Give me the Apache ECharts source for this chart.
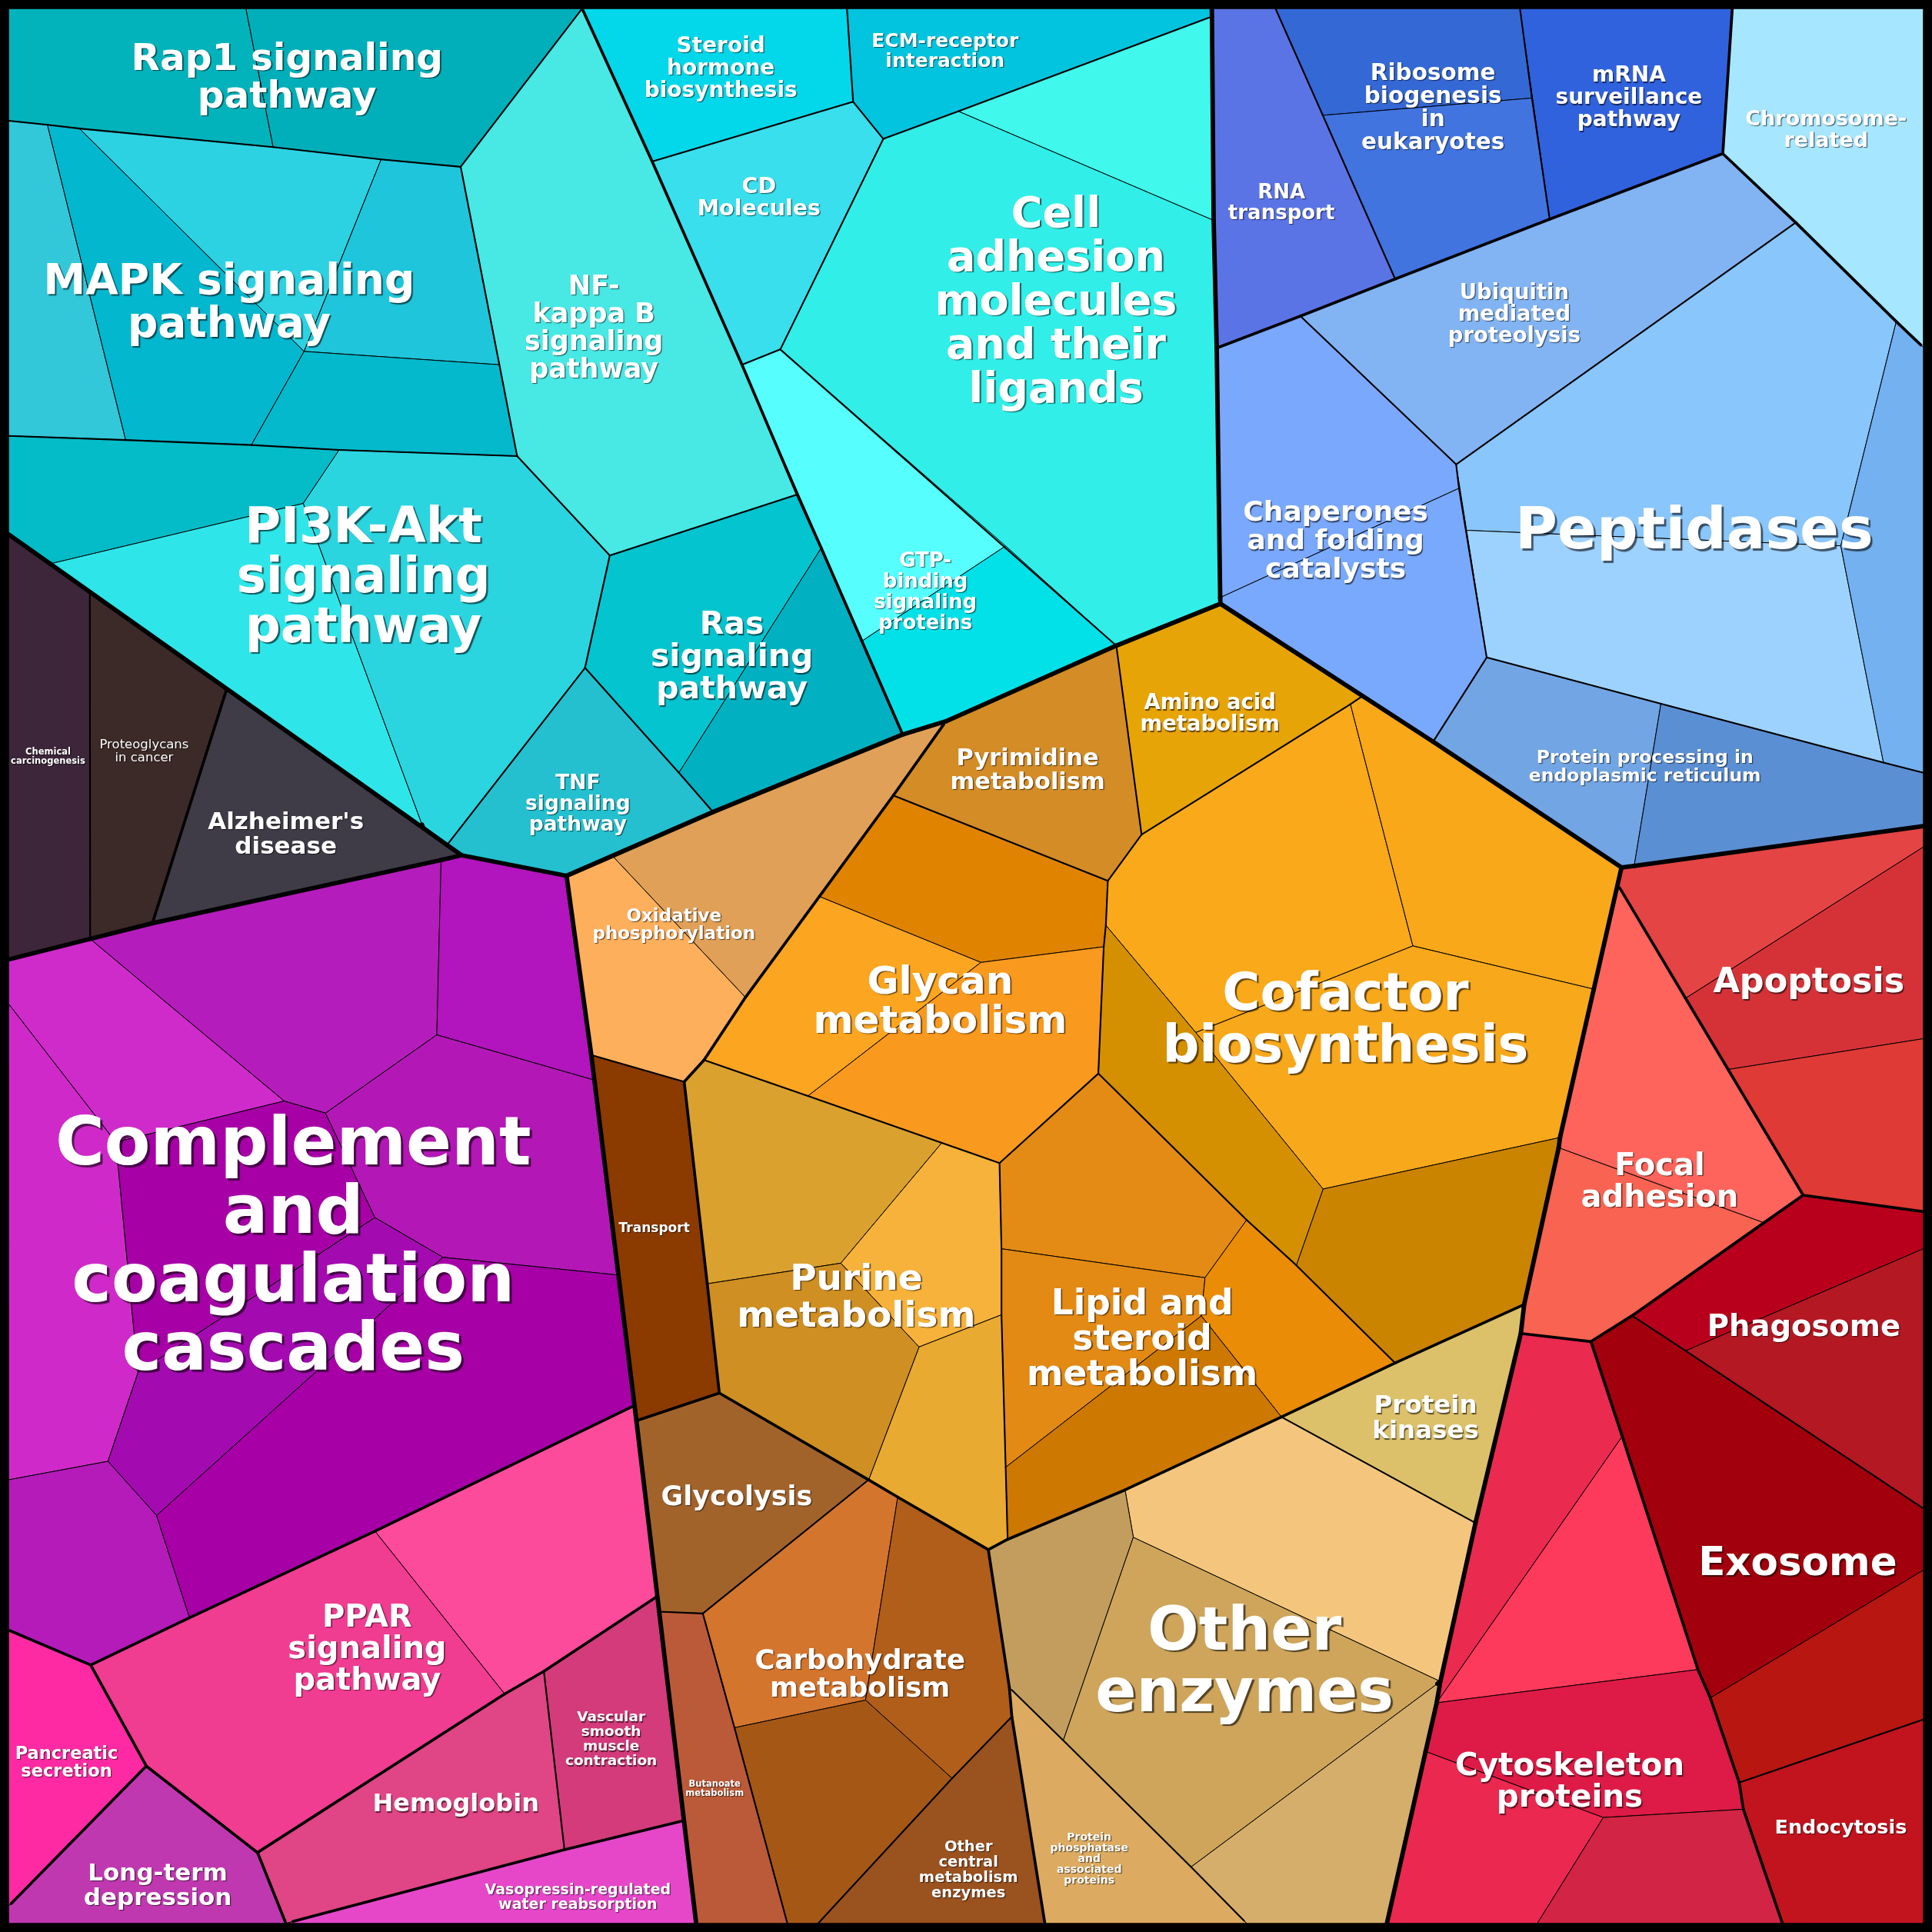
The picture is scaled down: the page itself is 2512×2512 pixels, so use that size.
<!DOCTYPE html>
<html>
<head>
<meta charset="utf-8">
<title>Proteomap</title>
<script src="https://cdn.jsdelivr.net/npm/echarts/dist/echarts.min.js"></script>
<style>
  html, body { margin: 0; padding: 0; background: #000; }
  #chart { width: 2512px; height: 2512px; }
</style>
</head>
<body>
<div id="chart"></div>
<script>
// layout space is 0..1568 on both axes (y grows downwards)
const SPACE = 1568;

// cell corner points
const pts = {
  tl: [7, 7], tr: [1561, 7], bl: [7, 1561], br: [1561, 1561],
  a1: [7, 98], a2: [38.5, 101.3], a3: [64.5, 104.3], a4: [221.7, 119.4], a5: [309.3, 129.4], a6: [373.9, 135.4], a7: [472.5, 7], a8: [199.6, 7],
  b1: [246.8, 285.2], b2: [405.3, 296], b3: [419.7, 370.2], b4: [275.2, 365.2], b5: [204, 361.2], b6: [102, 357.1], b7: [7, 353.8],
  c1: [647, 401.3], c2: [529.3, 131.1], c3: [602.2, 296], c4: [494.9, 450.8],
  d1: [732.6, 596.1], d2: [666.5, 444.8], d3: [551, 627.2], d4: [474.8, 542], d5: [578.7, 659], d6: [459.8, 710.8], d7: [374.5, 694.1], d8: [362.8, 685.8], d9: [767.7, 585.4],
  e1: [7, 433.7], e2: [246.1, 408.6], e3: [40.8, 457.6], e4: [343.5, 672.1],
  f1: [687.4, 7], f2: [692.4, 82.6], f3: [716.9, 112.7], f4: [777.7, 90.3], f5: [983.6, 13.4], f6: [985, 178.9], f7: [633.3, 283.6], f8: [906, 524], f9: [816.2, 443.1], f10: [700, 520],
  g1: [983.5, 7], g2: [990.5, 490],
  h1: [1035.2, 7], h2: [1073.6, 93.6], h3: [1132.3, 226.4], h4: [1243.3, 79.6], h5: [1233.6, 7], h6: [1257.7, 177.9], h7: [1405.9, 7], h8: [1398.2, 124.7], h9: [987.5, 282.5], h10: [1055.4, 256.5], h11: [1457.4, 180.6], h12: [1561, 281.9], h13: [1181.8, 376.9],
  i1: [1206.6, 533.6], i2: [1163.1, 602], i3: [1528.6, 618.9], i4: [1561, 627.2], i5: [1348, 571.1], i6: [1326.3, 702.8], i7: [1316, 704], i8: [1561, 670.5],
  j1: [1184.1, 396.3], j2: [990.3, 485],
  k1: [1539, 261], k2: [1494, 443], k3: [1190.3, 430.4],
  q2: [926.5, 677.4], q3: [1105, 565.5], q4: [899.1, 714.9], q5: [725, 645.6],
  t1: [1096, 571.5], t2: [1146.7, 767.7], t3: [1073.8, 965], t4: [970.5, 838], t5: [897.5, 751], t6: [1132.3, 1106.2], t7: [1052.1, 1026.9],
  r1: [1237, 1058.7], r2: [1234.3, 1082.2], r3: [1293.5, 802.8], r4: [1266.1, 923.2],
  u1: [891.4, 871.3], u2: [1011.8, 990.1], u3: [895.8, 768.4], u4: [811.2, 943.9], u5: [571.4, 860.3],
  v1: [796.1, 781.1], v2: [665, 727.6], v3: [655.7, 889.5],
  w1: [555.3, 878], w2: [479.9, 856.3], w3: [497, 694.6], w4: [605, 809.5], w5: [516.5, 1153], w6: [583.8, 1130.6],
  x1: [802.1, 1257.7], x2: [817.8, 1249.3],
  y1: [764.4, 927.5], y2: [682.4, 1025.2], y3: [574, 1041.9], y4: [745.9, 1093.2], y5: [812.8, 1067.1],
  z1: [913.1, 1209.2], z2: [1040, 1150], z3: [978, 1037], z4: [812.8, 1013.5], z5: [975, 1068], z6: [816.2, 1190.8],
  aa1: [535, 1308], aa2: [565, 1561],
  ab1: [705, 1201], ab2: [570.4, 1309.5], ab3: [821.2, 1393.2], ab4: [848, 1561],
  ac1: [728.6, 1215], ac2: [702.5, 1379.8], ac3: [596.1, 1402.2], ac4: [772.7, 1443.3], ac5: [664, 1561], ac6: [639, 1561],
  ad1: [1197.5, 1236], ad2: [1125.6, 1561],
  ae1: [819.2, 1369.7], ae2: [966.7, 1515.2], ae3: [1011.8, 1561],
  af1: [863, 1412.5], af2: [919.8, 1247.7], af3: [1169, 1364.7],
  ag1: [1313, 718], ag2: [1463.4, 970],
  ah1: [1368, 810.2], ah2: [1561, 687.4], ah3: [1402.5, 868], ah4: [1561, 843], ah5: [1561, 983.4],
  ai1: [1324.6, 1067.8], ai2: [1291.2, 1088.8],
  aj1: [1265, 931.5], aj2: [1431.6, 992.4],
  ak1: [1561, 1013.5], ak2: [1368.1, 1096.3], ak3: [1561, 1224.3],
  al1: [1561, 1274.4], al2: [1388.1, 1378.1], al3: [1561, 1395.5], al4: [1411.5, 1446.7], al5: [1446.6, 1561],
  am1: [1166, 1382], am2: [1378, 1355], am3: [1157, 1421.5], am4: [1301.2, 1475.1], am5: [1414.9, 1468.4], am6: [1247.7, 1561], am7: [1316.6, 1165.8],
  an1: [533.5, 1295.5], an2: [555.5, 1477.5], an3: [458.1, 1501.2], an4: [232, 1561],
  ao1: [515, 1140.7],
  ap1: [409.6, 1374.8], ap2: [209, 1503.5], ap3: [118.7, 1433.3], ap4: [73.6, 1351.3], ap5: [153.8, 1312.9], ap6: [304.3, 1242.7], ap7: [7, 1323], ap8: [7, 1547],
  aq1: [441.4, 1356.4],
  ar1: [7, 778.7],
  as1: [73.2, 762], as2: [123.7, 749.3], as3: [72.9, 480.4], as4: [184, 559.1],
  ba1: [358, 698], ba2: [354.5, 839.9], ba3: [264.2, 903.4], ba4: [482.3, 876.6], ba5: [230.7, 893.6], ba6: [94, 927], ba7: [112, 1114],
  ba8: [87.6, 1186], ba9: [7, 1201], ba10: [127.1, 1230], ba11: [359.5, 1020.4], ba12: [304.3, 988.2], ba13: [501.5, 1034.8], ba14: [7, 814.8]
};

// pathways: id, name, group
const pathways = [
  ['rap1', 'Rap1 signaling pathway', 'sig'],
  ['mapk', 'MAPK signaling pathway', 'sig'],
  ['nfkb', 'NF-kappa B signaling pathway', 'sig'],
  ['pi3k', 'PI3K-Akt signaling pathway', 'sig'],
  ['ras', 'Ras signaling pathway', 'sig'],
  ['tnf', 'TNF signaling pathway', 'sig'],
  ['ster', 'Steroid hormone biosynthesis', 'cam'],
  ['ecm', 'ECM-receptor interaction', 'cam'],
  ['cd', 'CD Molecules', 'cam'],
  ['cam', 'Cell adhesion molecules and their ligands', 'cam'],
  ['gtp', 'GTP-binding signaling proteins', 'cam'],
  ['rna', 'RNA transport', 'gen'],
  ['ribo', 'Ribosome biogenesis in eukaryotes', 'gen'],
  ['mrna', 'mRNA surveillance pathway', 'gen'],
  ['chrom', 'Chromosome-related', 'chr'],
  ['ubiq', 'Ubiquitin mediated proteolysis', 'fold'],
  ['chap', 'Chaperones and folding catalysts', 'fold'],
  ['pept', 'Peptidases', 'fold'],
  ['ppe', 'Protein processing in endoplasmic reticulum', 'fold'],
  ['amino', 'Amino acid metabolism', 'met'],
  ['pyr', 'Pyrimidine metabolism', 'met'],
  ['glycan', 'Glycan metabolism', 'met'],
  ['cof', 'Cofactor biosynthesis', 'met'],
  ['pur', 'Purine metabolism', 'met'],
  ['lipid', 'Lipid and steroid metabolism', 'met'],
  ['ox', 'Oxidative phosphorylation', 'ene'],
  ['trans', 'Transport', 'ene'],
  ['glyc', 'Glycolysis', 'carb'],
  ['carb', 'Carbohydrate metabolism', 'carb'],
  ['buta', 'Butanoate metabolism', 'carb'],
  ['ocm', 'Other central metabolism enzymes', 'carb'],
  ['oenz', 'Other enzymes', 'enz'],
  ['pk', 'Protein kinases', 'enz'],
  ['pp', 'Protein phosphatase and associated proteins', 'enz'],
  ['apo', 'Apoptosis', 'apo'],
  ['focal', 'Focal adhesion', 'foc'],
  ['phago', 'Phagosome', 'ves'],
  ['exo', 'Exosome', 'ves'],
  ['endo', 'Endocytosis', 'ves'],
  ['cyto', 'Cytoskeleton proteins', 'cyt'],
  ['comp', 'Complement and coagulation cascades', 'imm'],
  ['ppar', 'PPAR signaling pathway', 'ppar'],
  ['panc', 'Pancreatic secretion', 'panc'],
  ['ltd', 'Long-term depression', 'ltd'],
  ['hemo', 'Hemoglobin', 'hem'],
  ['vasc', 'Vascular smooth muscle contraction', 'hem'],
  ['vaso', 'Vasopressin-regulated water reabsorption', 'vaso'],
  ['chem', 'Chemical carcinogenesis', 'can'],
  ['proteo', 'Proteoglycans in cancer', 'can'],
  ['alz', "Alzheimer's disease", 'neu']
];

// group -> top category
const groupCategory = {
  sig: 'env', cam: 'env',
  gen: 'gip', chr: 'gip', fold: 'gip',
  met: 'metab', ene: 'metab', carb: 'metab', enz: 'metab',
  apo: 'cell', foc: 'cell', ves: 'cell', cyt: 'cell',
  imm: 'org', ppar: 'org', panc: 'org', ltd: 'org', hem: 'org', vaso: 'org',
  can: 'dis', neu: 'dis'
};

// protein cells: pathway id, outline (point names)
const leaves = [
  ['rap1', 'tl a8 a4 a3 a2 a1'], ['rap1', 'a8 a7 a6 a5 a4'],
  ['mapk', 'a1 a2 b6 b7'], ['mapk', 'a2 a3 b1 b5 b6'], ['mapk', 'a3 a4 a5 b1'], ['mapk', 'a5 a6 b2 b1'], ['mapk', 'b1 b2 b3 b4 b5'],
  ['nfkb', 'a6 a7 c2 c3 c1 c4 b3 b2'],
  ['pi3k', 'b7 b6 b5 b4 e2 e3 e1'], ['pi3k', 'b4 b3 c4 d4 d8 e4 e2'], ['pi3k', 'e2 e4 e3'],
  ['ras', 'c4 c1 d2 d3 d4'], ['ras', 'd2 d1 d5 d3'],
  ['tnf', 'd4 d3 d5 d6 d7 d8'],
  ['ster', 'a7 f1 f2 c2'],
  ['ecm', 'f1 g1 f5 f4 f3 f2'],
  ['cd', 'c2 f2 f3 f7 c3'],
  ['cam', 'f4 f5 f6'], ['cam', 'f3 f4 f6 h9 j2 g2 f8 f7'],
  ['gtp', 'c3 f7 f9 f10'], ['gtp', 'f10 f9 f8 d9 d1'],
  ['rna', 'g1 h1 h2 h3 h10 h9'],
  ['ribo', 'h1 h5 h4 h2'], ['ribo', 'h2 h4 h6 h3'],
  ['mrna', 'h5 h7 h8 h6'],
  ['chrom', 'h7 tr h12 k1 h11 h8'],
  ['ubiq', 'h10 h3 h6 h8 h11 h13'],
  ['chap', 'h9 h10 h13 j1 j2'], ['chap', 'j2 j1 i1 i2 g2'],
  ['pept', 'h13 h11 k1 k2 k3'], ['pept', 'k3 k2 i3 i5 i1'], ['pept', 'k1 h12 i4 i3 k2'],
  ['ppe', 'i1 i5 i6 i7 i2'], ['ppe', 'i5 i3 i4 i8 i6'],
  ['amino', 'f8 g2 q3 t1 q2'],
  ['pyr', 'f8 q2 q4 q5 d9'],
  ['glycan', 'q5 q4 t5 u3 v1 v2'], ['glycan', 'v2 v1 v3 u5 w4'], ['glycan', 'v1 u3 u1 u4 y1 v3'],
  ['cof', 'q2 t1 t2 t4 t5 q4'], ['cof', 't1 q3 i2 i7 r3 t2'], ['cof', 't4 t2 r3 r4 t3'], ['cof', 't3 r4 aj1 r1 t6 t7'], ['cof', 't5 t4 t3 t7 u2 u1 u3'],
  ['ox', 'w3 d1 d9 q5 v2 w4'], ['ox', 'd6 w3 w4 u5 w1 w2'],
  ['trans', 'w2 w1 y3 w6 w5'],
  ['pur', 'u5 v3 y1 y2 y3 w1'], ['pur', 'y1 u4 z4 y5 y4 y2'], ['pur', 'y4 y5 z6 x2 x1 ac1 ab1'], ['pur', 'y3 y2 y4 ab1 w6'],
  ['lipid', 'u4 u1 u2 z3 z4'], ['lipid', 'z4 z3 z5 z6 y5'], ['lipid', 'u2 t7 t6 z2 z5 z3'], ['lipid', 'z6 z5 z2 z1 x2'],
  ['glyc', 'w5 w6 ab1 ab2 aa1'],
  ['carb', 'ab1 ac1 ac2 ac3 ab2'], ['carb', 'ac1 x1 ae1 ab3 ac4 ac2'], ['carb', 'ac3 ac2 ac4 ac5 ac6'],
  ['ocm', 'ac4 ab3 ab4 ac5'],
  ['buta', 'aa1 ab2 ac3 ac6 aa2'],
  ['pk', 'z2 t6 r1 r2 ad1'],
  ['oenz', 'z1 z2 ad1 af3 af2'], ['oenz', 'x1 x2 z1 af2 af1 ae1'], ['oenz', 'af2 af3 ae2 af1'], ['oenz', 'ae2 af3 am1 am3 ad2 ae3'],
  ['pp', 'ae1 af1 ae2 ae3 ab4 ab3'],
  ['apo', 'i7 i8 ah2 ah1 ag1'], ['apo', 'ah1 ah2 ah4 ah3'], ['apo', 'ah3 ah4 ah5 ag2'],
  ['focal', 'ag1 ah1 ah3 ag2 aj2 aj1 r4 r3'], ['focal', 'aj1 aj2 ai1 ai2 r2 r1'],
  ['phago', 'ag2 ah5 ak1 ak2 ai1'], ['phago', 'ak2 ak1 ak3'],
  ['exo', 'ai1 ak2 ak3 al1 al2 am2 am7 ai2'], ['exo', 'al2 al1 al3 al4'],
  ['endo', 'al4 al3 br al5 am5'],
  ['cyto', 'r2 ai2 am7 am1 af3 ad1'], ['cyto', 'am7 am2 am1'], ['cyto', 'am1 am2 al2 al4 am5 am4 am3'], ['cyto', 'am3 am4 am6 ad2'], ['cyto', 'am4 am5 al5 am6'],
  ['comp', 'ar1 as1 ba5 ba6 ba14'], ['comp', 'as1 as2 ba1 ba2 ba3 ba5'], ['comp', 'ba1 d7 d6 w2 ba4 ba2'],
  ['comp', 'ba14 ba6 ba7 ba8 ba9'], ['comp', 'ba6 ba5 ba3 ba12 ba7'], ['comp', 'ba2 ba4 ba13 ba11 ba12 ba3'],
  ['comp', 'ba7 ba12 ba11 ba10 ba8'], ['comp', 'ba9 ba8 ba10 ap5 ap4 ap7'], ['comp', 'ba10 ba11 ba13 ao1 ap6 ap5'],
  ['ppar', 'ao1 an1 aq1 ap1 ap6'], ['ppar', 'ap6 ap1 ap2 ap3 ap4 ap5'],
  ['panc', 'ap7 ap4 ap3 ap8'],
  ['ltd', 'ap8 ap3 ap2 an4 bl'],
  ['hemo', 'ap2 ap1 aq1 an3 an4'],
  ['vasc', 'aq1 an1 aa1 an2 an3'],
  ['vaso', 'an4 an3 an2 aa2'],
  ['chem', 'e1 e3 as3 as1 ar1'],
  ['proteo', 'as3 as4 as2 as1'],
  ['alz', 'as4 e4 d8 d7 as2']
];

// fill of each cell, same order as leaves
const leafColors = [
  '#03b3bb', '#01afba',
  '#32c7d9', '#03b7cf', '#2cd2e2', '#1fc5da', '#04b9cc',
  '#48e8e4',
  '#04bcc7', '#2bd5e0', '#2ee6e9',
  '#04c4cf', '#02b1c1',
  '#24c0d0',
  '#03d8ea',
  '#03c4de',
  '#39dfed',
  '#40f8ec', '#31eee8',
  '#56fefe', '#03e1e8',
  '#5b74e5',
  '#3468d5', '#4174df',
  '#3162de',
  '#a6e6fe',
  '#82b4f3',
  '#7aa8fd', '#79a9fc',
  '#88c6fc', '#9dd2fe', '#73b1f0',
  '#72a5e4', '#5b8fd3',
  '#e7a406',
  '#d38c26',
  '#e08300', '#fba520', '#f9991d',
  '#f9a919', '#f9a81a', '#f8a81b', '#cb8400', '#d49000',
  '#e0a057', '#feaf5c',
  '#8b3a00',
  '#dba12e', '#f6b23a', '#e9aa31', '#cf8f22',
  '#e38b15', '#e28a14', '#ea8c05', '#cd7800',
  '#a2632b',
  '#d4752d', '#b15e1a', '#a55815',
  '#9a521f',
  '#bb5a38',
  '#dcc16a',
  '#f4c67d', '#c39d5d', '#cea55b', '#d5ae6b',
  '#dcab61',
  '#e44444', '#d53238', '#df3a35',
  '#fe645c', '#f86352',
  '#b8001c', '#b41823',
  '#a1000c', '#b81611',
  '#c2141e',
  '#eb2a50', '#fd3a5b', '#de1a46', '#eb2850', '#d22444',
  '#cf2bcb', '#b41dbb', '#b214bd',
  '#cf2ac9', '#a700a7', '#b318b6',
  '#a30bb0', '#b41bb9', '#a600a6',
  '#fd4b9b', '#f03c91',
  '#fe2aa3',
  '#c038b0',
  '#e04585',
  '#d43b7b',
  '#e647c9',
  '#3d2639',
  '#3c2a28',
  '#3f3c47'
];

// label text as broken in the picture
const labelText = {
  rap1: 'Rap1 signaling\npathway', mapk: 'MAPK signaling\npathway', nfkb: 'NF-\nkappa B\nsignaling\npathway',
  pi3k: 'PI3K-Akt\nsignaling\npathway', ras: 'Ras\nsignaling\npathway', tnf: 'TNF\nsignaling\npathway',
  ster: 'Steroid\nhormone\nbiosynthesis', ecm: 'ECM-receptor\ninteraction', cd: 'CD\nMolecules',
  cam: 'Cell\nadhesion\nmolecules\nand their\nligands', gtp: 'GTP-\nbinding\nsignaling\nproteins',
  rna: 'RNA\ntransport', ribo: 'Ribosome\nbiogenesis\nin\neukaryotes', mrna: 'mRNA\nsurveillance\npathway',
  chrom: 'Chromosome-\nrelated', ubiq: 'Ubiquitin\nmediated\nproteolysis', chap: 'Chaperones\nand folding\ncatalysts',
  pept: 'Peptidases', ppe: 'Protein processing in\nendoplasmic reticulum',
  amino: 'Amino acid\nmetabolism', pyr: 'Pyrimidine\nmetabolism', ox: 'Oxidative\nphosphorylation',
  glycan: 'Glycan\nmetabolism', cof: 'Cofactor\nbiosynthesis', trans: 'Transport',
  pur: 'Purine\nmetabolism', lipid: 'Lipid and\nsteroid\nmetabolism', glyc: 'Glycolysis',
  carb: 'Carbohydrate\nmetabolism', buta: 'Butanoate\nmetabolism', ocm: 'Other\ncentral\nmetabolism\nenzymes',
  pp: 'Protein\nphosphatase\nand\nassociated\nproteins', oenz: 'Other\nenzymes', pk: 'Protein\nkinases',
  apo: 'Apoptosis', focal: 'Focal\nadhesion', phago: 'Phagosome', exo: 'Exosome',
  cyto: 'Cytoskeleton\nproteins', endo: 'Endocytosis',
  comp: 'Complement\nand\ncoagulation\ncascades', ppar: 'PPAR\nsignaling\npathway', hemo: 'Hemoglobin',
  vasc: 'Vascular\nsmooth\nmuscle\ncontraction', panc: 'Pancreatic\nsecretion', ltd: 'Long-term\ndepression',
  vaso: 'Vasopressin-regulated\nwater reabsorption', chem: 'Chemical\ncarcinogenesis',
  proteo: 'Proteoglycans\nin cancer', alz: "Alzheimer's\ndisease"
};

// label placement (layout units) and font size (px)
const labelAt = {
  rap1: [233, 64], mapk: [186, 247], nfkb: [482, 267], pi3k: [295, 470], ras: [594, 534], tnf: [469, 653],
  ster: [585, 56], ecm: [767, 42], cd: [616, 161], cam: [857, 246], gtp: [751, 481],
  rna: [1040, 165], ribo: [1163, 88], mrna: [1322, 80], chrom: [1482, 106], ubiq: [1229, 256],
  chap: [1084, 440], pept: [1375, 433], ppe: [1335, 623],
  amino: [982, 580], pyr: [834, 626], ox: [547, 751], glycan: [763, 814], cof: [1092, 830],
  trans: [531, 997], pur: [695, 1054], lipid: [927, 1088], glyc: [598, 1216], carb: [698, 1360],
  buta: [580, 1452], ocm: [786, 1518], pp: [884, 1509], oenz: [1010, 1351], pk: [1157, 1152],
  apo: [1468, 798], focal: [1347, 960], phago: [1464, 1078], exo: [1459, 1270], cyto: [1274, 1447],
  endo: [1494, 1484], comp: [238, 1014], ppar: [298, 1339], hemo: [370, 1465], vasc: [496, 1412],
  panc: [54, 1431], ltd: [128, 1531], vaso: [469, 1540], chem: [39, 614], proteo: [117, 610], alz: [232, 678]
};
const labelFont = {
  rap1: 48.5, mapk: 55, nfkb: 35, pi3k: 64, ras: 41, tnf: 26.5, ster: 28, ecm: 25, cd: 28.5, cam: 55.5, gtp: 26,
  rna: 26, ribo: 29.5, mrna: 28, chrom: 27, ubiq: 27.5, chap: 36, pept: 75, ppe: 23.5,
  amino: 27.5, pyr: 30.5, ox: 23, glycan: 50, cof: 67, trans: 17, pur: 47, lipid: 45.5, glyc: 35, carb: 35.5,
  buta: 11.5, ocm: 19.5, pp: 14, oenz: 78.5, pk: 32.5, apo: 44.5, focal: 40, phago: 38.5, exo: 51.5,
  cyto: 40.5, endo: 25.5, comp: 87, ppar: 40, hemo: 32, vasc: 18.5, panc: 22.5, ltd: 31, vaso: 19,
  chem: 11.5, proteo: 16.5, alz: 31
};
const thinLabels = ['proteo'];

// ---- geometry helpers ----
const polys = leaves.map(l => l[1].split(' ').map(k => pts[k]));
const boxes = polys.map(p => {
  const xs = p.map(v => v[0]), ys = p.map(v => v[1]);
  return [Math.min(...xs), Math.min(...ys), Math.max(...xs), Math.max(...ys)];
});
const groupOf = {};
pathways.forEach(p => { groupOf[p[0]] = p[2]; });

function inside(poly, x, y) {
  let c = false;
  for (let i = 0, j = poly.length - 1; i < poly.length; j = i++) {
    const xi = poly[i][0], yi = poly[i][1], xj = poly[j][0], yj = poly[j][1];
    if ((yi > y) !== (yj > y) && x < (xj - xi) * (y - yi) / (yj - yi) + xi) c = !c;
  }
  return c;
}
function leafAt(x, y) {
  for (let i = 0; i < polys.length; i++) {
    const b = boxes[i];
    if (x < b[0] || x > b[2] || y < b[1] || y > b[3]) continue;
    if (inside(polys[i], x, y)) return i;
  }
  return -1;
}
function borderLevel(i, nb) {
  const pa = leaves[i][0], pb = leaves[nb][0];
  const ga = groupOf[pa], gb = groupOf[pb];
  if (groupCategory[ga] !== groupCategory[gb]) return 4;
  if (ga !== gb) return 3;
  if (pa !== pb) return 2;
  return 0;
}

// heavier borders between pathways, groups and categories
const segs = [];
polys.forEach((poly, i) => {
  for (let k = 0; k < poly.length; k++) {
    const a = poly[k], b = poly[(k + 1) % poly.length];
    const dx = b[0] - a[0], dy = b[1] - a[1], len = Math.hypot(dx, dy);
    if (len < 0.01) continue;
    const n = Math.max(1, Math.ceil(len / 3));
    const nx = -dy / len, ny = dx / len;
    const lv = [];
    for (let s = 0; s < n; s++) {
      const t = (s + 0.5) / n, mx = a[0] + dx * t, my = a[1] + dy * t;
      const p1 = leafAt(mx + nx * 1.5, my + ny * 1.5), p2 = leafAt(mx - nx * 1.5, my - ny * 1.5);
      let nb = -1;
      if (p1 === i) nb = p2; else if (p2 === i) nb = p1;
      lv.push(nb > i ? borderLevel(i, nb) : 0);
    }
    let s = 0;
    while (s < n) {
      let e = s;
      while (e + 1 < n && lv[e + 1] === lv[s]) e++;
      if (lv[s] > 0) {
        segs.push([a[0] + dx * s / n, a[1] + dy * s / n, a[0] + dx * (e + 1) / n, a[1] + dy * (e + 1) / n, lv[s]]);
      }
      s = e + 1;
    }
  }
});
segs.sort((p, q) => p[4] - q[4]);
const borderWidth = { 2: 2.1, 3: 3.7, 4: 5.8 };

const labelIds = Object.keys(labelText);

const chart = echarts.init(document.getElementById('chart'));
chart.setOption({
  backgroundColor: '#000',
  animation: false,
  grid: { left: 0, top: 0, right: 0, bottom: 0 },
  xAxis: { type: 'value', min: 0, max: SPACE, show: false },
  yAxis: { type: 'value', min: 0, max: SPACE, inverse: true, show: false },
  series: [
    {
      type: 'custom',
      silent: true,
      data: leaves.map((l, i) => [i]),
      renderItem: (params, api) => {
        const i = params.dataIndex;
        return {
          type: 'polygon',
          shape: { points: polys[i].map(p => api.coord(p)) },
          style: { fill: leafColors[i], stroke: '#000', lineWidth: 1 }
        };
      }
    },
    {
      type: 'custom',
      silent: true,
      z: 3,
      data: segs.map((s, i) => [i]),
      renderItem: (params, api) => {
        const s = segs[params.dataIndex];
        const p = api.coord([s[0], s[1]]), q = api.coord([s[2], s[3]]);
        return {
          type: 'line',
          shape: { x1: p[0], y1: p[1], x2: q[0], y2: q[1] },
          style: { stroke: '#000', lineWidth: borderWidth[s[4]], lineCap: 'round' }
        };
      }
    },
    {
      type: 'custom',
      silent: true,
      z: 5,
      data: labelIds.map((id, i) => [i]),
      renderItem: (params, api) => {
        const id = labelIds[params.dataIndex];
        const pos = api.coord(labelAt[id]);
        const fs = labelFont[id];
        const sh = Math.max(1.2, fs * 0.035);
        return {
          type: 'text',
          x: pos[0],
          y: pos[1],
          style: {
            text: labelText[id],
            fill: '#fff',
            fontFamily: 'DejaVu Sans',
            fontWeight: thinLabels.includes(id) ? 'normal' : 'bold',
            fontSize: fs,
            lineHeight: Math.round(fs * 1.02),
            align: 'center',
            verticalAlign: 'middle',
            textShadowColor: 'rgba(0,0,0,0.6)',
            textShadowBlur: 1,
            textShadowOffsetX: sh,
            textShadowOffsetY: sh
          }
        };
      }
    }
  ]
});
</script>
</body>
</html>
